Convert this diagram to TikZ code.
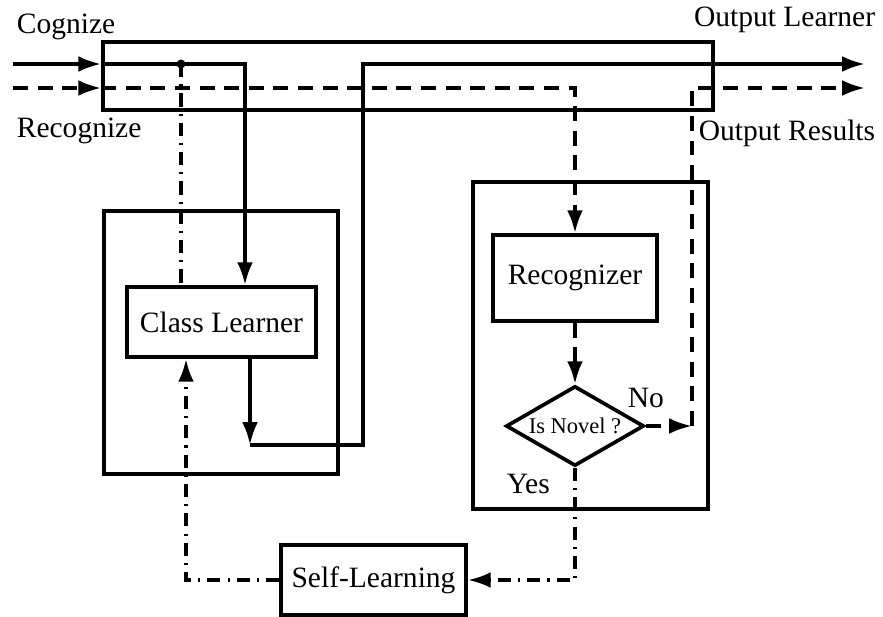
\documentclass[tikz,border=0pt]{standalone}
\usepackage{fontspec}
\setmainfont{Liberation Serif}
\usetikzlibrary{arrows.meta}
\usetikzlibrary{shapes.geometric}
\def\mainsize{\fontsize{16.8}{19}\selectfont}
\def\smallsize{\fontsize{12.8}{15}\selectfont}

\begin{document}
\begin{tikzpicture}[x=0.02cm, y=-0.02cm, line width=2.1pt,
    flow/.style={-{Latex[length=13pt,width=9pt]}},
    dashes/.style={dash pattern=on 8.5pt off 5.5pt},
    learn/.style={dash pattern=on 7.5pt off 4pt on 1.2pt off 4pt},
    block/.style={draw, rectangle, inner sep=0pt, font=\mainsize},
    lbl/.style={inner sep=0pt, font=\mainsize}]
	\useasboundingbox (0,0) rectangle (883,616);
	% containers
	\node[draw, minimum width=12.2cm, minimum height=1.36cm] (bus) at (408,76) {};
	\draw (104,211) rectangle (338,474);
	\draw (473,182) rectangle (708,509);
	% blocks
	\node[block, minimum width=3.78cm, minimum height=1.4cm] (classlearner) at (221.5,322) {Class Learner};
	\node[block, minimum width=3.28cm, minimum height=1.72cm] (recognizer) at (575,278) {Recognizer};
	\node[draw, diamond, aspect=1.725, inner sep=0pt, minimum width=2.76cm,
	      minimum height=1.6cm, font=\smallsize] (novel) at (575,426) {Is Novel ?};
	\node[block, minimum width=3.7cm, minimum height=1.4cm] (selflearning) at (373.5,580) {Self-Learning};
	% labels
	\node[lbl, anchor=base west] (cognize) at (15,33) {Cognize};
	\node[lbl, anchor=base west] (recognize) at (15,137) {Recognize};
	\node[lbl, anchor=base east] (outlearner) at (877,26) {Output Learner};
	\node[lbl, anchor=base east] (outresults) at (877,140) {Output Results};
	\node[lbl, anchor=base west] (no) at (626,407) {No};
	\node[lbl, anchor=base west] (yes) at (505,493) {Yes};
	% turning points
	\coordinate (cogL) at (13,64);
	\coordinate (recL) at (13,88);
	\coordinate (cogR) at (865,64);
	\coordinate (recR) at (865,88);
	\coordinate (split) at (181,64);
	\coordinate (feed) at (245,64);
	\coordinate (back) at (250,445);
	\coordinate (rise) at (363,445);
	\coordinate (fbk) at (186,579);
	\coordinate (nohop) at (692,426);
	% learner path
	\draw[flow] (cogL) -- (cogL -| bus.west);
	\draw[flow] (cogL -| bus.west) -- (feed) -- (feed |- classlearner.north);
	\fill (split) circle (0.09cm);
	\draw[learn] (split) -- (split |- classlearner.north);
	\draw[flow] (back |- classlearner.south) -- (back);
	\draw[flow] (back) -- (rise) |- (cogR);
	% recognizer path
	\draw[flow, dashes] (recL) -- (recL -| bus.west);
	\draw[flow, dashes] (recL -| bus.west) -| (recognizer.north);
	\draw[flow, dashes] (recognizer.south) -- (novel.north);
	\draw[flow, dashes] (novel.east) -- (nohop);
	\draw[flow, dashes] (nohop) |- (recR);
	% self-learning loop
	\draw[flow, learn] (novel.south) |- (selflearning.east);
	\draw[flow, learn] (selflearning.west) -| (fbk |- classlearner.south);
\end{tikzpicture}
\end{document}
